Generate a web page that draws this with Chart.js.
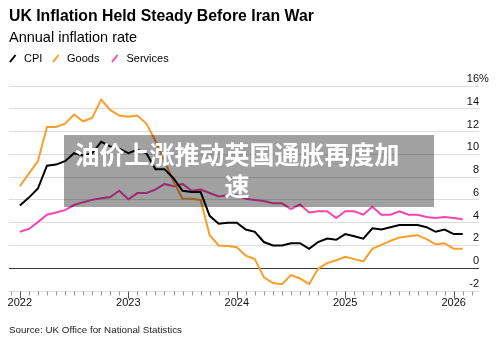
<!DOCTYPE html>
<html>
<head>
<meta charset="utf-8">
<script src="https://cdn.jsdelivr.net/npm/chart.js@4.4.1/dist/chart.umd.min.js"></script>
<style>
  html, body { margin: 0; padding: 0; background: #fff; }
  #wrap { position: relative; width: 500px; height: 344px; overflow: hidden;
          font-family: "Liberation Sans", Arial, sans-serif; color: #000; }
  #chart { position: absolute; left: 0; top: 0; }
  .abs { position: absolute; white-space: nowrap; }
  #title { left: 9px; top: 7.5px; font-size: 15.8px; line-height: 15.8px; font-weight: bold; }
  #subtitle { left: 9px; top: 29.5px; font-size: 14.5px; line-height: 14.5px; }
  .lg { top: 53px; font-size: 11px; line-height: 11px; }
  #source { left: 9px; top: 324.5px; font-size: 9.8px; line-height: 10px; color: #222; }
  #banner { position: absolute; left: 64px; top: 135px; width: 370px; height: 72px;
            background: rgba(0,0,0,0.37); }
  #bannerText { position: absolute; left: 72px; top: 137px; width: 330px;
                font-family: "Noto Sans CJK SC", sans-serif; font-weight: bold;
                font-size: 25px; line-height: 32px; color: #fff; text-align: center; }
</style>
</head>
<body>
<div id="wrap">
  <canvas id="chart" width="500" height="344"></canvas>
  <div id="title" class="abs">UK Inflation Held Steady Before Iran War</div>
  <div id="subtitle" class="abs">Annual inflation rate</div>
  <svg class="abs" style="left:0;top:0" width="200" height="70">
    <line x1="10" y1="62" x2="15.5" y2="55" stroke="#000" stroke-width="2"/>
    <line x1="53" y1="62" x2="58.5" y2="55" stroke="#fa9d2a" stroke-width="2"/>
    <line x1="112" y1="62" x2="117.5" y2="55" stroke="#f545b0" stroke-width="2"/>
  </svg>
  <div class="abs lg" style="left:24px">CPI</div>
  <div class="abs lg" style="left:67px">Goods</div>
  <div class="abs lg" style="left:126.5px">Services</div>
  <div id="source" class="abs">Source: UK Office for National Statistics</div>
  <div id="banner"></div>
  <div id="bannerText">油价上涨推动英国通胀再度加速</div>
</div>
<script>
// Monthly observations, Jan 2022 – Feb 2026
const months = [
  'Jan 2022','Feb 2022','Mar 2022','Apr 2022','May 2022','Jun 2022','Jul 2022','Aug 2022','Sep 2022','Oct 2022','Nov 2022','Dec 2022',
  'Jan 2023','Feb 2023','Mar 2023','Apr 2023','May 2023','Jun 2023','Jul 2023','Aug 2023','Sep 2023','Oct 2023','Nov 2023','Dec 2023',
  'Jan 2024','Feb 2024','Mar 2024','Apr 2024','May 2024','Jun 2024','Jul 2024','Aug 2024','Sep 2024','Oct 2024','Nov 2024','Dec 2024',
  'Jan 2025','Feb 2025','Mar 2025','Apr 2025','May 2025','Jun 2025','Jul 2025','Aug 2025','Sep 2025','Oct 2025','Nov 2025','Dec 2025',
  'Jan 2026','Feb 2026'
];

const cpi = [
  5.5, 6.2, 7.0, 9.0, 9.1, 9.4, 10.1, 9.9, 10.1, 11.1, 10.7, 10.5,
  10.1, 10.4, 10.1, 8.7, 8.7, 7.9, 6.8, 6.7, 6.7, 4.6, 3.9, 4.0,
  4.0, 3.4, 3.2, 2.3, 2.0, 2.0, 2.2, 2.2, 1.7, 2.3, 2.6, 2.5,
  3.0, 2.8, 2.6, 3.5, 3.4, 3.6, 3.8, 3.8, 3.8, 3.6, 3.2, 3.4,
  3.0, 3.0
];

const goods = [
  7.2, 8.3, 9.4, 12.4, 12.4, 12.7, 13.5, 12.9, 13.2, 14.8, 13.9, 13.4,
  13.3, 13.4, 12.7, 11.2, 9.4, 7.6, 6.1, 6.1, 6.0, 2.9, 2.0, 1.95,
  1.85, 1.1, 0.8, -0.8, -1.3, -1.4, -0.6, -0.9, -1.4, -0.05, 0.45, 0.7,
  1.0, 0.8, 0.6, 1.7, 2.05, 2.4, 2.7, 2.8, 2.9, 2.55, 2.1, 2.2,
  1.7, 1.7
];

const services = [
  3.2, 3.45, 4.05, 4.7, 4.9, 5.1, 5.55, 5.8, 6.0, 6.15, 6.25, 6.8,
  6.05, 6.6, 6.6, 6.9, 7.4, 7.2, 7.4, 6.8, 6.9, 6.6, 6.3, 6.4,
  6.4, 6.1, 6.0, 5.9, 5.7, 5.7, 5.2, 5.6, 4.9, 5.0, 5.0, 4.4,
  5.0, 5.0, 4.7, 5.4, 4.7, 4.7, 5.0, 4.7, 4.7, 4.5, 4.4, 4.5,
  4.4, 4.3
];

const yTicks = [-2, 0, 2, 4, 6, 8, 10, 12, 14, 16];
const yearLabels = ['2022', '2023', '2024', '2025', '2026'];

const COLORS = { cpi: '#000000', goods: '#fa9d2a', services: '#f545b0' };
const FONT = '"Liberation Sans", Arial, sans-serif';

const toPoints = arr => arr.map((v, i) => ({ x: i, y: v }));

// Axis decorations: value labels sitting above each gridline on the right,
// monthly tick marks below the plot with longer marks at each January.
const axisDecor = {
  id: 'axisDecor',
  afterDraw(chart) {
    const ctx = chart.ctx;
    const xs = chart.scales.x, ys = chart.scales.y;
    const area = chart.chartArea;
    ctx.save();

    // y labels
    ctx.font = '11px ' + FONT;
    ctx.fillStyle = '#111';
    ctx.textBaseline = 'alphabetic';
    yTicks.forEach((v, i) => {
      const y = ys.getPixelForValue(v);
      ctx.textAlign = 'right';
      ctx.fillText(String(v), area.right, y - 4);
      if (i === yTicks.length - 1) {
        ctx.textAlign = 'left';
        ctx.fillText('%', area.right, y - 4);
      }
    });

    // x ticks
    const base = Math.round(area.bottom) + 0.5;
    ctx.lineWidth = 1;
    for (let m = -1; m <= months.length; m++) {
      const x = Math.round(xs.getPixelForValue(m)) + 0.5;
      const major = ((m % 12) + 12) % 12 === 0;
      ctx.strokeStyle = major ? '#555' : '#999';
      ctx.beginPath();
      ctx.moveTo(x, base);
      ctx.lineTo(x, base + (major ? 7 : 4));
      ctx.stroke();
    }

    // year labels
    ctx.font = '11px ' + FONT;
    ctx.fillStyle = '#111';
    ctx.textAlign = 'center';
    yearLabels.forEach((lab, i) => {
      const x = xs.getPixelForValue(i * 12);
      ctx.fillText(lab, x, 306);
    });
    ctx.restore();
  }
};

new Chart(document.getElementById('chart'), {
  type: 'line',
  data: {
    datasets: [
      { label: 'CPI', data: toPoints(cpi), borderColor: COLORS.cpi },
      { label: 'Goods', data: toPoints(goods), borderColor: COLORS.goods },
      { label: 'Services', data: toPoints(services), borderColor: COLORS.services }
    ]
  },
  options: {
    responsive: false,
    animation: false,
    events: [],
    layout: { padding: { left: 9, right: 21, top: 86, bottom: 53 } },
    elements: {
      line: { borderWidth: 2, tension: 0, fill: false },
      point: { radius: 0 }
    },
    plugins: { legend: { display: false }, tooltip: { enabled: false } },
    scales: {
      x: {
        type: 'linear',
        display: false,
        min: -1.2,
        max: 50.8
      },
      y: {
        min: -2,
        max: 16,
        ticks: { display: false, stepSize: 2 },
        border: { display: false },
        grid: {
          drawTicks: false,
          lineWidth: 1,
          color: c => (c.tick && c.tick.value === 0) ? '#3a3a3a' : '#dcdcdc'
        }
      }
    }
  },
  plugins: [axisDecor]
});
</script>
</body>
</html>
